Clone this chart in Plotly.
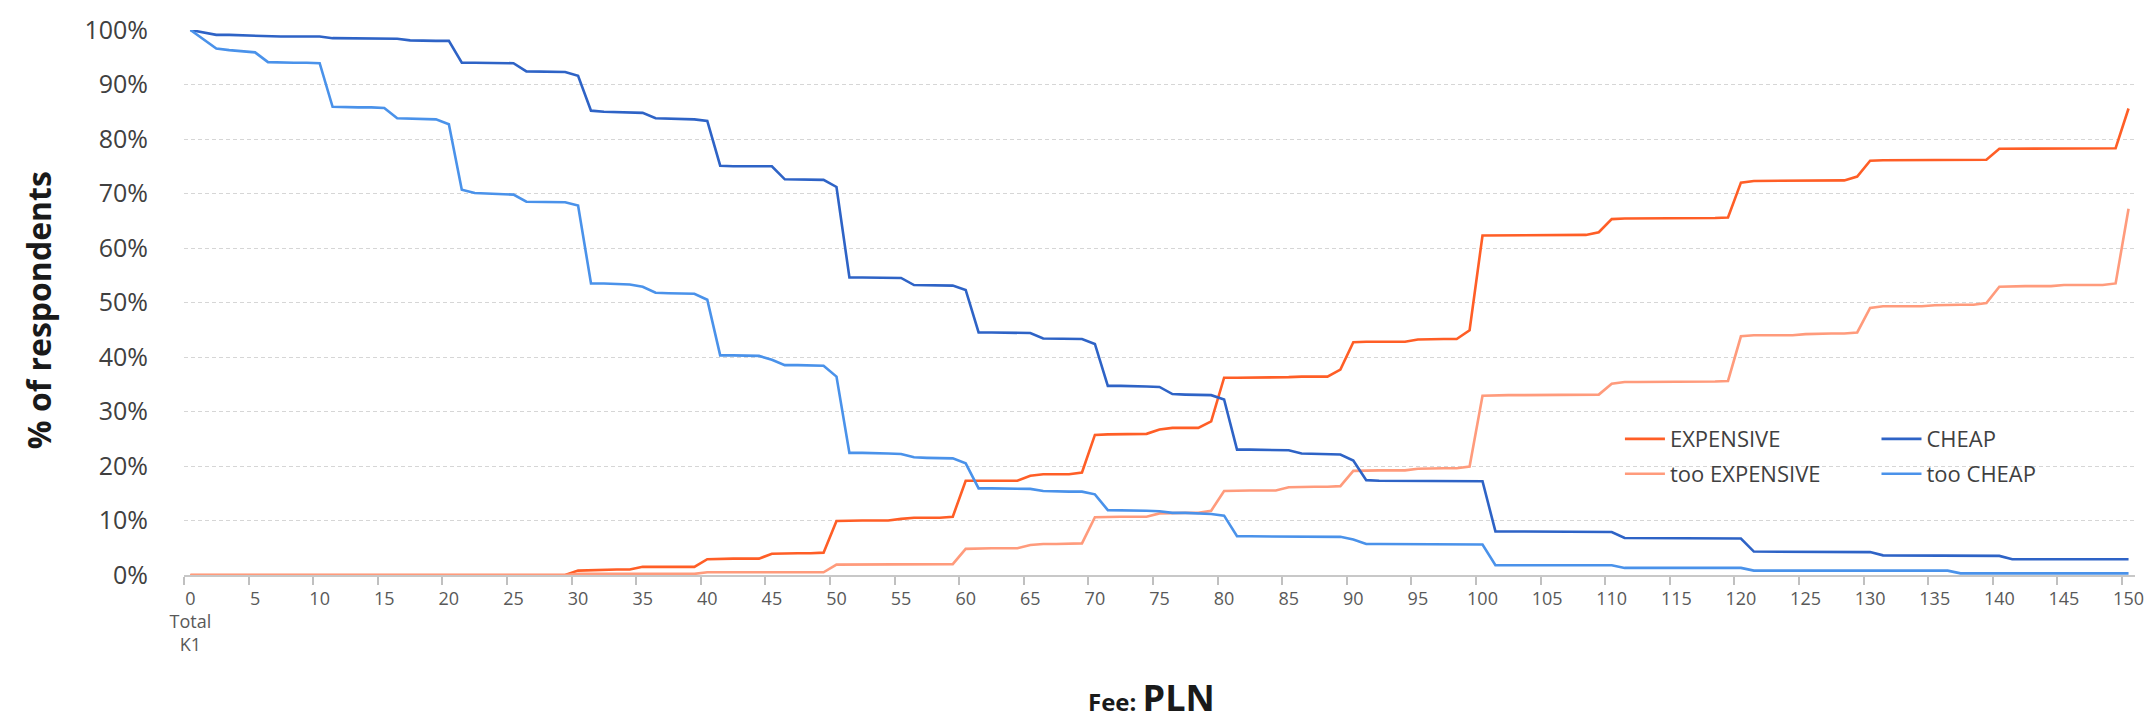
import plotly.graph_objects as go

# Fee levels (PLN), one category per integer price
prices = list(range(0, 151))

# Cumulative share of respondents (%) at each fee level
expensive = [
    0, 0, 0, 0, 0, 0, 0, 0, 0, 0,
    0, 0, 0, 0, 0, 0, 0, 0, 0, 0,
    0, 0, 0, 0, 0, 0, 0, 0, 0, 0,
    0.8, 0.9, 1.0, 1.0, 1.0, 1.5, 1.5, 1.5, 1.5, 1.5,
    2.9, 3.0, 3.0, 3.0, 3.0, 3.9, 4.0, 4.0, 4.0, 4.1,
    9.9, 10.0, 10.0, 10.0, 10.0, 10.3, 10.5, 10.5, 10.5, 10.7,
    17.3, 17.3, 17.3, 17.3, 17.3, 18.2, 18.5, 18.5, 18.5, 18.8,
    25.7, 25.8, 25.8, 25.8, 25.9, 26.7, 27.0, 27.0, 27.0, 28.2,
    36.2, 36.2, 36.2, 36.2, 36.2, 36.3, 36.4, 36.4, 36.4, 37.7,
    42.7, 42.8, 42.8, 42.8, 42.8, 43.2, 43.3, 43.3, 43.3, 44.9,
    62.3, 62.3, 62.3, 62.3, 62.3, 62.3, 62.3, 62.3, 62.4, 62.9,
    65.3, 65.4, 65.4, 65.4, 65.4, 65.5, 65.5, 65.5, 65.5, 65.6,
    72.0, 72.3, 72.3, 72.3, 72.3, 72.3, 72.3, 72.3, 72.4, 73.1,
    76.0, 76.1, 76.1, 76.1, 76.1, 76.1, 76.1, 76.1, 76.1, 76.2,
    78.2, 78.2, 78.2, 78.2, 78.2, 78.2, 78.2, 78.2, 78.2, 78.3,
    85.6,
]

too_expensive = [
    0, 0, 0, 0, 0, 0, 0, 0, 0, 0,
    0, 0, 0, 0, 0, 0, 0, 0, 0, 0,
    0, 0, 0, 0, 0, 0, 0, 0, 0, 0,
    0.2, 0.2, 0.2, 0.2, 0.2, 0.2, 0.2, 0.2, 0.2, 0.2,
    0.5, 0.5, 0.5, 0.5, 0.5, 0.5, 0.5, 0.5, 0.5, 0.5,
    1.9, 1.9, 1.9, 1.9, 1.9, 2.0, 2.0, 2.0, 2.0, 2.0,
    4.8, 4.9, 4.9, 4.9, 4.9, 5.5, 5.7, 5.7, 5.7, 5.8,
    10.6, 10.7, 10.7, 10.7, 10.7, 11.3, 11.4, 11.4, 11.4, 11.8,
    15.4, 15.5, 15.5, 15.5, 15.5, 16.1, 16.2, 16.2, 16.2, 16.3,
    19.1, 19.2, 19.2, 19.2, 19.2, 19.5, 19.6, 19.6, 19.6, 19.9,
    32.9, 33.0, 33.0, 33.0, 33.0, 33.0, 33.0, 33.0, 33.0, 33.1,
    35.1, 35.4, 35.4, 35.4, 35.4, 35.5, 35.5, 35.5, 35.5, 35.6,
    43.8, 44.0, 44.0, 44.0, 44.0, 44.2, 44.3, 44.3, 44.3, 44.5,
    49.0, 49.3, 49.3, 49.3, 49.3, 49.5, 49.6, 49.6, 49.6, 49.9,
    52.9, 53.0, 53.0, 53.0, 53.0, 53.2, 53.2, 53.2, 53.2, 53.5,
    67.2,
]

cheap = [
    100.0, 99.5, 99.1, 99.1, 99.0, 99.0, 98.9, 98.8, 98.8, 98.8,
    98.8, 98.5, 98.5, 98.5, 98.5, 98.5, 98.4, 98.1, 98.0, 98.0,
    98.0, 94.0, 94.0, 94.0, 94.0, 93.9, 92.4, 92.4, 92.4, 92.3,
    91.6, 85.2, 85.0, 84.9, 84.9, 84.8, 83.8, 83.7, 83.7, 83.6,
    83.3, 75.1, 75.0, 75.0, 75.0, 75.0, 72.6, 72.6, 72.6, 72.5,
    71.2, 54.6, 54.6, 54.6, 54.6, 54.5, 53.2, 53.2, 53.2, 53.1,
    52.3, 44.5, 44.5, 44.5, 44.5, 44.4, 43.4, 43.4, 43.4, 43.3,
    42.4, 34.7, 34.7, 34.7, 34.6, 34.5, 33.2, 33.1, 33.1, 33.0,
    32.2, 23.0, 23.0, 23.0, 22.9, 22.9, 22.3, 22.2, 22.2, 22.1,
    21.0, 17.4, 17.3, 17.3, 17.3, 17.3, 17.3, 17.3, 17.3, 17.3,
    17.2, 8.0, 8.0, 8.0, 8.0, 8.0, 8.0, 8.0, 8.0, 8.0,
    7.9, 6.8, 6.8, 6.8, 6.8, 6.8, 6.8, 6.8, 6.8, 6.8,
    6.7, 4.3, 4.3, 4.3, 4.3, 4.3, 4.3, 4.3, 4.2, 4.2,
    4.2, 3.6, 3.6, 3.6, 3.6, 3.6, 3.6, 3.6, 3.6, 3.6,
    3.5, 2.9, 2.9, 2.9, 2.9, 2.9, 2.9, 2.9, 2.9, 2.9,
    2.9,
]

too_cheap = [
    100.0, 98.3, 96.6, 96.3, 96.1, 95.9, 94.1, 94.0, 94.0, 94.0,
    93.9, 85.9, 85.8, 85.8, 85.8, 85.7, 83.8, 83.7, 83.7, 83.6,
    82.7, 70.7, 70.1, 70.0, 70.0, 69.8, 68.5, 68.5, 68.5, 68.4,
    67.8, 53.5, 53.5, 53.4, 53.3, 52.9, 51.8, 51.7, 51.7, 51.6,
    50.5, 40.3, 40.3, 40.3, 40.2, 39.5, 38.5, 38.5, 38.5, 38.4,
    36.4, 22.4, 22.4, 22.4, 22.3, 22.2, 21.6, 21.5, 21.5, 21.4,
    20.5, 15.9, 15.9, 15.9, 15.8, 15.8, 15.4, 15.3, 15.3, 15.3,
    14.8, 11.9, 11.9, 11.9, 11.8, 11.7, 11.4, 11.4, 11.3, 11.2,
    10.9, 7.1, 7.1, 7.1, 7.1, 7.0, 7.0, 7.0, 7.0, 7.0,
    6.5, 5.7, 5.7, 5.7, 5.7, 5.6, 5.6, 5.6, 5.6, 5.6,
    5.6, 1.8, 1.8, 1.8, 1.8, 1.8, 1.8, 1.8, 1.8, 1.8,
    1.8, 1.3, 1.3, 1.3, 1.3, 1.3, 1.3, 1.3, 1.3, 1.3,
    1.3, 0.8, 0.8, 0.8, 0.8, 0.8, 0.8, 0.8, 0.8, 0.8,
    0.8, 0.8, 0.8, 0.8, 0.8, 0.8, 0.8, 0.3, 0.3, 0.3,
    0.3, 0.3, 0.3, 0.3, 0.3, 0.3, 0.3, 0.3, 0.3, 0.3,
    0.3,
]

# Labelled fee levels on the x axis; the first category also carries
# the banner rows "Total" / "K1"
tick_prices = list(range(0, 151, 5))
tick_labels = ["0<br>Total<br>K1"] + [str(p) for p in tick_prices[1:]]
y_ticks = list(range(0, 101, 10))
y_tick_labels = [f"{v}%" for v in y_ticks]

FONT = "Open Sans, Segoe UI, Arial, sans-serif"

# name, values, colour, legend id, legend position (paper x, paper y)
series = [
    ("EXPENSIVE", expensive, "#FF5E26", "legend", (0.736, 0.288)),
    ("too EXPENSIVE", too_expensive, "#FF9B7C", "legend2", (0.736, 0.224)),
    ("CHEAP", cheap, "#2E63C6", "legend3", (0.8675, 0.288)),
    ("too CHEAP", too_cheap, "#4A92EA", "legend4", (0.8675, 0.224)),
]

fig = go.Figure()
legend_layout = {}
for name, values, color, legend_id, (lx, ly) in series:
    fig.add_trace(go.Scatter(
        x=prices, y=values, name=name, mode="lines",
        line=dict(color=color, width=2.6),
        legend=legend_id, cliponaxis=False,
        hovertemplate="%{x}: %{y:.1f}%<extra>" + name + "</extra>",
    ))
    legend_layout[legend_id] = dict(
        x=lx, y=ly, xanchor="left", yanchor="top", orientation="v",
        bgcolor="rgba(0,0,0,0)", borderwidth=0, itemwidth=40,
        font=dict(family=FONT, size=22, color="#404040"),
    )

fig.update_layout(
    width=2156, height=723,
    margin=dict(l=184, r=18, t=28, b=148),
    paper_bgcolor="white", plot_bgcolor="white",
    font=dict(family=FONT, color="#404040"),
    showlegend=True,
    **legend_layout,
    xaxis=dict(
        range=[-0.5, 150.5],
        tickmode="array", tickvals=tick_prices, ticktext=tick_labels,
        ticks="outside", ticklen=6, tickcolor="rgba(0,0,0,0)",
        tickfont=dict(family=FONT, size=18, color="#595959"),
        showgrid=False, zeroline=False,
        showline=True, linecolor="#C8C8C8", linewidth=2,
        minor=dict(
            tickmode="array", tickvals=[p - 0.5 for p in tick_prices],
            ticks="outside", ticklen=8, tickwidth=1.5, tickcolor="#C0C0C0",
            showgrid=False,
        ),
    ),
    yaxis=dict(
        range=[0, 100],
        tickmode="array", tickvals=y_ticks, ticktext=y_tick_labels,
        ticks="outside", ticklen=30, tickcolor="rgba(0,0,0,0)",
        tickfont=dict(family=FONT, size=25, color="#404040"),
        showgrid=True, gridcolor="#D6D6D6", gridwidth=1.2, griddash="4px,3px",
        zeroline=False, showline=False,
    ),
    annotations=[
        dict(
            text="<b>% of respondents</b>",
            xref="paper", yref="paper", x=-0.0748, y=0.486,
            xanchor="center", yanchor="middle", textangle=-90,
            showarrow=False, font=dict(family=FONT, size=32, color="#1A1A1A"),
        ),
        dict(
            text=("<b><span style='font-size:24px'>Fee: </span>"
                  "<span style='font-size:36px'>PLN</span></b>"),
            xref="paper", yref="paper", x=0.496, y=-0.225,
            xanchor="center", yanchor="middle",
            showarrow=False, font=dict(family=FONT, size=36, color="#1A1A1A"),
        ),
    ],
)

fig.write_html("out.html")
